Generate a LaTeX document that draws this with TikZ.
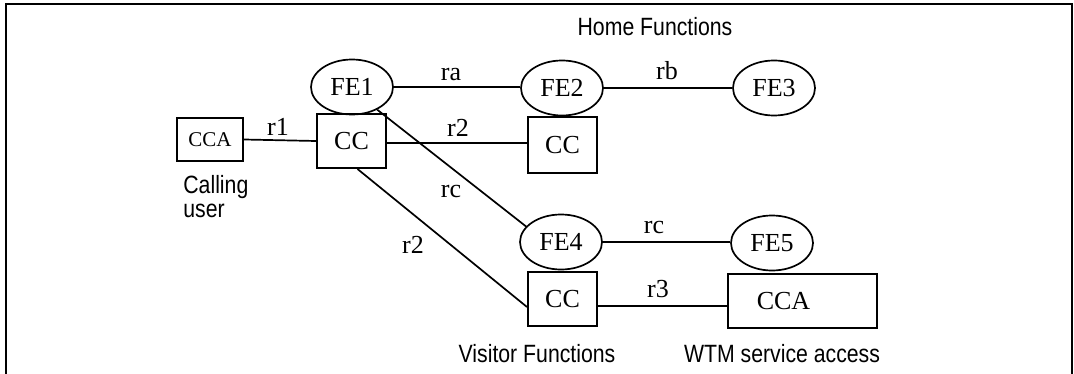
\documentclass[tikz,border=0pt]{standalone}
\usepackage{fontspec}
\setmainfont{Liberation Serif}
\newfontfamily\narrowsans[FakeStretch=0.85]{Liberation Sans}
\usetikzlibrary{shapes.geometric}
\begin{document}
\begin{tikzpicture}[x=0.5pt,y=-0.5pt,
  fe/.style={ellipse, draw, line width=0.85pt, minimum width=41pt, minimum height=27.5pt, inner sep=0pt, font=\fontsize{13pt}{15pt}\selectfont},
  box/.style={rectangle, draw, line width=1pt, inner sep=0pt, font=\fontsize{13pt}{15pt}\selectfont},
  conn/.style={line width=0.85pt},
  lbl/.style={anchor=base, inner sep=0pt, font=\fontsize{13pt}{15pt}\selectfont},
  captext/.style={anchor=base, inner sep=0pt, font=\narrowsans\fontsize{12.5pt}{15pt}\selectfont}]
\useasboundingbox (0,0) rectangle (1074,374);
\draw[line width=1.25pt] (6,380) -- (6,4) -- (1072,4) -- (1072,380);

\node[fe] (FE1) at (352,87) {FE1};
\node[fe] (FE2) at (562,88) {FE2};
\node[fe] (FE3) at (774,88) {FE3};
\node[fe] (FE4) at (561,242) {FE4};
\node[fe] (FE5) at (772,243) {FE5};
\node[box, minimum width=33pt, minimum height=21.5pt, font=\fontsize{10.5pt}{12pt}\selectfont] (CCA1) at (210,139.5) {CCA};
\node[box, minimum width=34.5pt, minimum height=27pt] (CC1) at (351.5,141) {CC};
\node[box, minimum width=34.5pt, minimum height=28pt] (CC2) at (562.5,145) {CC};
\node[box, minimum width=34.5pt, minimum height=27pt] (CC3) at (562.5,299) {CC};
\node[box, minimum width=74.5pt, minimum height=27pt] (CCA2) at (802.5,301) {CCA\hspace*{19pt}};

\draw[conn] (FE1.east) -- (FE1.east -| FE2.west);
\draw[conn] (FE2.east) -- (FE3.west);
\draw[conn] (CCA1.east) -- (CC1.west);
\draw[conn] ([yshift=-1pt]CC1.east) -- ([yshift=-1pt]CC1.east -| CC2.west);
\draw[conn] (FE1.-42) -- (FE4.156);
\draw[conn] ([xshift=3pt]CC1.south) -- ([yshift=-4pt]CC3.west);
\draw[conn] (FE4.east) -- (FE4.east -| FE5.west);
\draw[conn] ([yshift=-3.5pt]CC3.east) -- ([yshift=-3.5pt]CC3.east -| CCA2.west);

\node[lbl] (lra) at (451,81) {ra};
\node[lbl] (lrb) at (667,80) {rb};
\node[lbl] (lr1) at (278,135) {r1};
\node[lbl] (lr2a) at (458,136) {r2};
\node[lbl] (lrca) at (451,197) {rc};
\node[lbl] (lr2b) at (413,253) {r2};
\node[lbl] (lrcb) at (654,233) {rc};
\node[lbl] (lr3) at (658,297) {r3};

\node[captext] (home) at (655,36) {Home Functions};
\node[captext, anchor=base west] (calling) at (183,193) {Calling};
\node[captext, anchor=base west] (user) at (183,217) {user};
\node[captext] (visitor) at (537,362) {Visitor Functions};
\node[captext] (wtm) at (782,362) {WTM service access};
\end{tikzpicture}
\end{document}
